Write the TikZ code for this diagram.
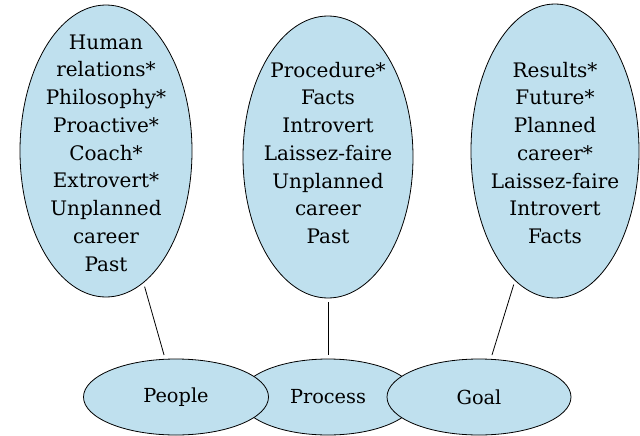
\documentclass[tikz,border=0pt]{standalone}
\usepackage{fontspec}
\setmainfont{DejaVu Serif}
\usepackage{tikz}
\usetikzlibrary{shapes.geometric}
\definecolor{bubblefill}{HTML}{BFE0EE}

\tikzset{
  bubble/.style 2 args={ellipse, draw=black, line width=0.6pt, fill=bubblefill,
    minimum width=#1*0.75pt, minimum height=#2*0.75pt, inner sep=0pt},
  listtext/.style={align=center, inner sep=0pt,
    font=\fontsize{15pt}{20.8pt}\selectfont},
  tagtext/.style={font=\fontsize{14.5pt}{18pt}\selectfont},
  link/.style={draw=black, line width=0.6pt, shorten <=3pt, shorten >=3pt}
}

\begin{document}
\begin{tikzpicture}[x=0.75pt, y=-0.75pt]

\useasboundingbox (0,0) rectangle (640,436);

% --- Upper ellipses with the trait lists ---
\node[bubble={172}{292}] (peopleList)  at (106,151) {};
\node[bubble={170}{282}] (processList) at (328,157) {};
\node[bubble={168}{294}] (goalList)    at (555,151) {};

\node[listtext] (peopleWords) at (106,153)
  {Human\\relations*\\Philosophy*\\Proactive*\\Coach*\\Extrovert*\\Unplanned\\career\\Past};
\node[listtext] (processWords) at (328,153)
  {Procedure*\\Facts\\Introvert\\Laissez-faire\\Unplanned\\career\\Past};
\node[listtext] (goalWords) at (555,153)
  {Results*\\Future*\\Planned\\career*\\Laissez-faire\\Introvert\\Facts};

% --- Lower ellipses (Process sits underneath the other two) ---
\node[bubble={176}{76}] (process) at (328,397) {};
\node[bubble={185}{76}] (people)  at (176,397) {};
\node[bubble={184}{76}] (goal)    at (479,397) {};

\node[tagtext] (peopleName)  at (people)  {People};
\node[tagtext] (processName) at (process) {Process};
\node[tagtext] (goalName)    at (goal)    {Goal};

% --- Connectors ---
\draw[link] (peopleList)  -- (people);
\draw[link] (processList) -- (process);
\draw[link] (goalList)    -- (goal);

\end{tikzpicture}
\end{document}
